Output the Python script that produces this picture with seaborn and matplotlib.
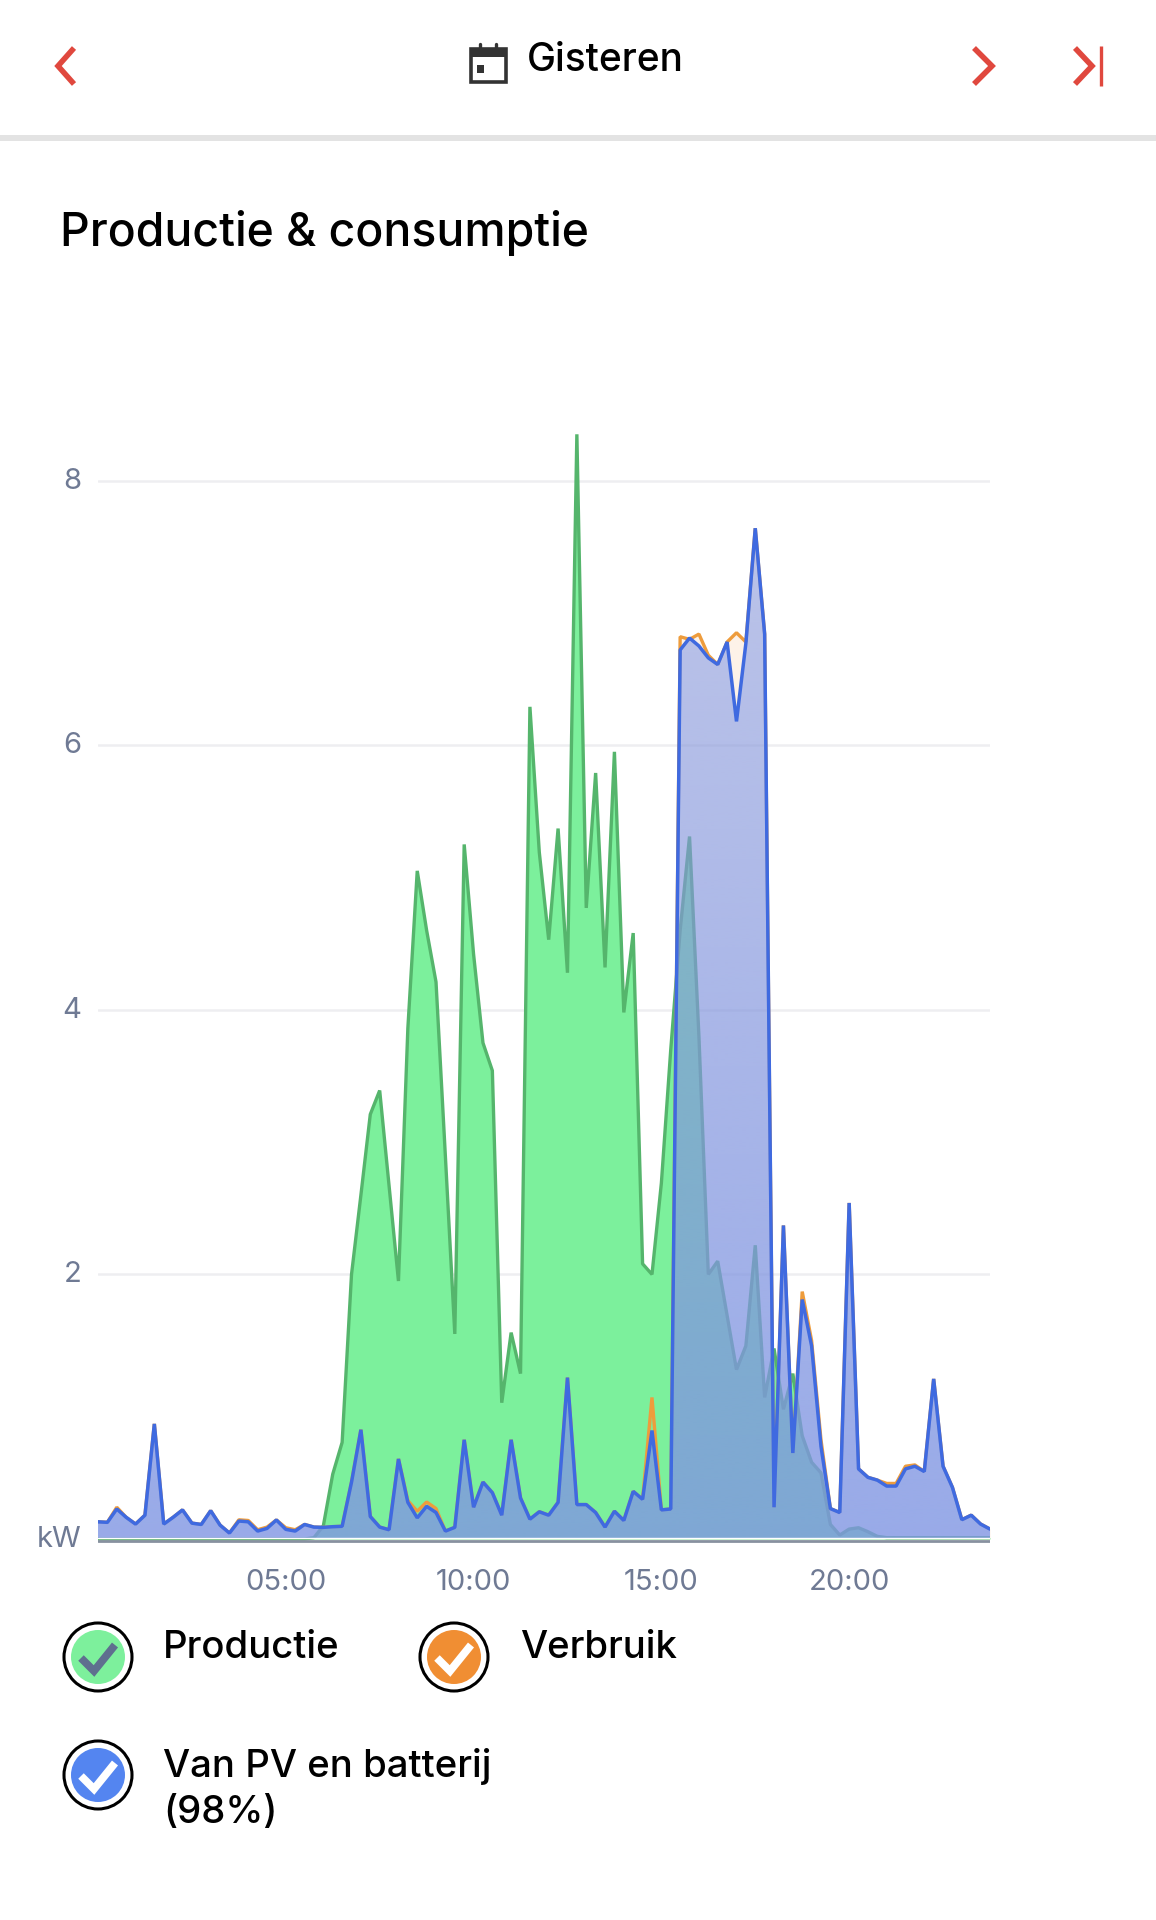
import numpy as np
import pandas as pd
import seaborn as sns
import matplotlib.pyplot as plt
from matplotlib.patches import Circle, Rectangle
from matplotlib.transforms import ScaledTranslation

# kW per kwartier, 00:00 t/m 23:45
productie = [
    0, 0, 0, 0, 0, 0, 0, 0, 0, 0, 0, 0, 0, 0, 0, 0, 0, 0, 0, 0, 0, 0, 0, 0.01,
    0.10, 0.49, 0.73, 2.00, 2.60, 3.21, 3.39, 2.67, 1.95, 3.86, 5.05, 4.60, 4.21, 2.89, 1.55, 5.25,
    4.42, 3.75, 3.54, 1.03, 1.56, 1.25, 6.29, 5.19, 4.53, 5.37, 4.28, 8.35, 4.77, 5.79, 4.32, 5.95,
    3.98, 4.58, 2.08, 2.00, 2.69, 3.70, 4.60, 5.31, 3.80, 2.00, 2.10, 1.69, 1.28, 1.46, 2.22, 1.07,
    1.44, 0.98, 1.25, 0.78, 0.58, 0.50, 0.11, 0.03, 0.075, 0.085, 0.055, 0.02, 0.01, 0.01, 0.01, 0.01,
    0.01, 0.01, 0.01, 0.01, 0.01, 0.01, 0.01, 0.01,
]
van_pv = [
    0.13, 0.126, 0.227, 0.164, 0.113, 0.18, 0.87, 0.113, 0.164, 0.22, 0.12, 0.11, 0.214, 0.105, 0.045, 0.136,
    0.13, 0.06, 0.08, 0.144, 0.073, 0.06, 0.11, 0.09, 0.088, 0.093, 0.096, 0.43, 0.826, 0.17, 0.09, 0.07,
    0.605, 0.277, 0.16, 0.247, 0.20, 0.06, 0.088, 0.75, 0.24, 0.43, 0.35, 0.18, 0.75, 0.31, 0.15, 0.206,
    0.18, 0.277, 1.22, 0.26, 0.26, 0.20, 0.09, 0.21, 0.14, 0.36, 0.30, 0.82, 0.22, 0.227, 6.72, 6.81,
    6.75, 6.66, 6.61, 6.78, 6.18, 6.77, 7.64, 6.84, 0.24, 2.37, 0.65, 1.81, 1.46, 0.70, 0.23, 0.20,
    2.54, 0.53, 0.466, 0.445, 0.40, 0.40, 0.53, 0.55, 0.51, 1.21, 0.55, 0.39, 0.146, 0.18, 0.113, 0.075,
]
verbruik = [
    0.13, 0.126, 0.24, 0.164, 0.113, 0.18, 0.87, 0.113, 0.164, 0.22, 0.12, 0.11, 0.214, 0.105, 0.045, 0.145,
    0.14, 0.07, 0.09, 0.144, 0.085, 0.07, 0.11, 0.09, 0.088, 0.093, 0.096, 0.43, 0.826, 0.17, 0.09, 0.07,
    0.605, 0.29, 0.21, 0.28, 0.23, 0.06, 0.088, 0.75, 0.24, 0.43, 0.35, 0.18, 0.75, 0.31, 0.15, 0.206,
    0.18, 0.277, 1.22, 0.26, 0.26, 0.20, 0.09, 0.21, 0.14, 0.36, 0.30, 1.07, 0.22, 0.227, 6.82, 6.80,
    6.84, 6.68, 6.61, 6.78, 6.85, 6.78, 7.64, 6.84, 0.24, 2.37, 0.65, 1.87, 1.50, 0.75, 0.23, 0.20,
    2.54, 0.53, 0.466, 0.445, 0.42, 0.42, 0.55, 0.56, 0.51, 1.21, 0.55, 0.39, 0.146, 0.18, 0.113, 0.075,
]
uur = np.arange(96) / 4
y_ticks = [0, 2, 4, 6, 8]
y_labels = ["kW", "2", "4", "6", "8"]
x_ticks = [5, 10, 15, 20]
x_labels = ["05:00", "10:00", "15:00", "20:00"]

W, H = 1156, 1920
RED = "#e0483e"
AXIS_TEXT = "#6f7a94"
FONT = "Inter"


def add_series(ax, values, color, zorder, lw=2.4):
    df = pd.DataFrame({"uur": uur, "kW": values})
    sns.lineplot(data=df, x="uur", y="kW", color=color, linewidth=lw, ax=ax,
                 estimator=None, zorder=zorder, solid_joinstyle="bevel")


def gradient_fill(ax, values, rgb, a_top, a_bottom, zorder):
    # fill_between alleen voor de clip-vorm, de kleur komt uit imshow
    poly = ax.fill_between(uur, values, 0, facecolor="none", edgecolor="none")
    rgba = np.ones((256, 1, 4))
    rgba[..., :3] = np.array(rgb) / 255
    rgba[:, 0, 3] = np.linspace(a_top, a_bottom, 256)
    im = ax.imshow(rgba, extent=[uur[0], uur[-1], 0, 8], aspect="auto", origin="upper",
                   zorder=zorder, interpolation="bilinear")
    im.set_clip_path(poly.get_paths()[0], transform=ax.transData)


def draw_chart(fig):
    # pixels: x 98..990, y=0 op 1539, 132.3 px per kW
    top_px, bottom_px = 340, 1543
    ax = fig.add_axes([98 / W, 1 - bottom_px / H, 892 / W, (bottom_px - top_px) / H])
    ax.set_facecolor("none")

    ax.fill_between(uur, productie, 0, color="#7cf09c", zorder=2, linewidth=0)
    add_series(ax, productie, "#55b56c", 3)
    ax.fill_between(uur, verbruik, 0, color="#f29a48", alpha=0.12, zorder=4, linewidth=0)
    add_series(ax, verbruik, "#ee9c3c", 5)
    gradient_fill(ax, van_pv, (124, 150, 232), 0.5, 0.78, 6)
    add_series(ax, van_pv, "#3f6ae0", 7, lw=2.5)

    ax.set_xlim(uur[0], uur[-1])
    ax.set_ylim(-(bottom_px - 1539) / 132.3, (1539 - top_px) / 132.3)
    ax.set_xticks(x_ticks, x_labels)
    ax.set_yticks(y_ticks, y_labels)
    ax.tick_params(length=0, labelsize=21, labelcolor=AXIS_TEXT)
    ax.tick_params(axis="x", pad=19)
    ax.tick_params(axis="y", pad=12)
    lift = ScaledTranslation(0, 2.5 / 100, fig.dpi_scale_trans)
    for label in ax.get_xticklabels() + ax.get_yticklabels():
        label.set_fontfamily(FONT)
    for label in ax.get_yticklabels():
        label.set_transform(label.get_transform() + lift)
    ax.set_xlabel("")
    ax.set_ylabel("")

    for val in y_ticks[1:]:
        ax.axhline(val, color="#eeeef1", lw=1.8, zorder=1)
    ax.axhline(0.005, color="#ffffff", lw=1.0, zorder=8)
    ax.axhline(-0.016, color="#87919f", lw=2.0, zorder=8)
    sns.despine(ax=ax, left=True, bottom=True)


def chevron(ov, xs, ys):
    ov.plot(xs, ys, color=RED, lw=4.0, solid_capstyle="butt", solid_joinstyle="miter")


def check_badge(ov, cx, cy, fill, tick):
    ov.add_patch(Circle((cx, cy), 34, facecolor="white", edgecolor="black", lw=2.2))
    ov.add_patch(Circle((cx, cy), 27, facecolor=fill, edgecolor="none"))
    ov.plot([cx - 17, cx - 4, cx + 17], [cy + 1, cy + 14, cy - 12], color=tick, lw=5.6,
            solid_capstyle="butt", solid_joinstyle="miter")


def label(ov, x, y, text, size):
    ov.text(x, y, text, fontsize=size, color="black", family=FONT, fontweight=500, va="baseline")


def draw_chrome(fig):
    ov = fig.add_axes([0, 0, 1, 1], zorder=-1)
    ov.set_xlim(0, W)
    ov.set_ylim(H, 0)
    ov.axis("off")

    # kopbalk
    chevron(ov, [74, 58, 74], [48, 66, 84])
    chevron(ov, [974, 992, 974], [48, 66, 84])
    chevron(ov, [1075, 1092, 1075], [48, 66, 84])
    ov.plot([1101, 1101], [46, 86], color=RED, lw=2.4, solid_capstyle="butt")
    ov.add_patch(Rectangle((0, 135), W, 6, facecolor="#e3e3e3", edgecolor="none"))

    # kalender-icoon
    ink = "#333333"
    ov.add_patch(Rectangle((470.5, 49), 35, 33, facecolor="white", edgecolor=ink, lw=2.6))
    ov.add_patch(Rectangle((470, 49), 36, 8, facecolor=ink, edgecolor="none"))
    ov.plot([480, 480], [44, 50], color=ink, lw=2.4)
    ov.plot([496, 496], [44, 50], color=ink, lw=2.4)
    ov.add_patch(Rectangle((477, 65), 7, 8, facecolor=ink, edgecolor="none"))

    label(ov, 527, 71, "Gisteren", 28)
    label(ov, 60, 246, "Productie & consumptie", 33.4)

    # legenda
    check_badge(ov, 98, 1657, "#7df09c", "#5f6f8f")
    check_badge(ov, 454, 1657, "#f08e33", "white")
    check_badge(ov, 98, 1775, "#5485f0", "white")
    label(ov, 163, 1658, "Productie", 27.6)
    label(ov, 520, 1658, "Verbruik", 27.6)
    label(ov, 163, 1777, "Van PV en batterij", 27.6)
    label(ov, 163, 1823, "(98%)", 27.6)


def main():
    sns.set_theme(style="white")
    plt.rcParams["font.family"] = [FONT, "DejaVu Sans"]
    fig = plt.figure(figsize=(W / 100, H / 100), dpi=100, facecolor="white")
    draw_chrome(fig)
    draw_chart(fig)
    fig.savefig("out.png", dpi=100, facecolor="white")
    plt.close(fig)


if __name__ == "__main__":
    main()
